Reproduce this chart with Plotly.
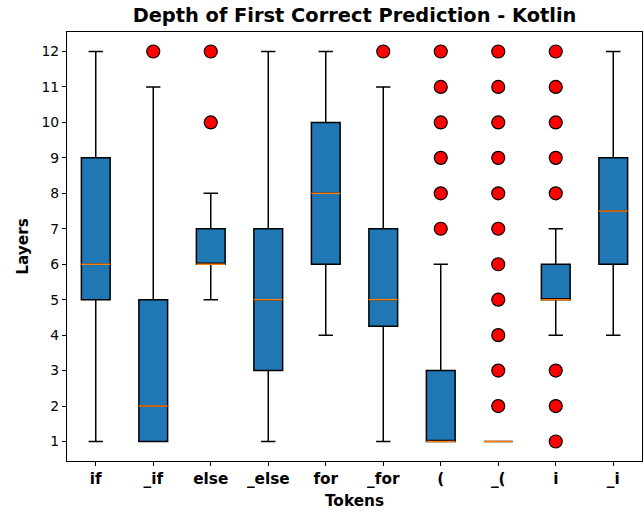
import plotly.graph_objects as go

categories = ["if", "_if", "else", "_else", "for", "_for", "(", "_(", "i", "_i"]
lower = [1, 1, 5, 1, 4, 1, 1, 1, 4, 4]
q1 = [5, 1, 6, 3, 6, 4.25, 1, 1, 5, 6]
median = [6, 2, 6, 5, 8, 5, 1, 1, 5, 7.5]
q3 = [9, 5, 7, 7, 10, 7, 3, 1, 6, 9]
upper = [12, 11, 8, 12, 12, 11, 6, 1, 7, 12]
outliers = [
    [],
    [12],
    [10, 12],
    [],
    [],
    [12],
    [7, 8, 9, 10, 11, 12],
    [2, 3, 4, 5, 6, 7, 8, 9, 10, 11, 12],
    [1, 2, 3, 8, 9, 10, 11, 12],
    [],
]

pos = list(range(len(categories)))
box_w = 0.5

fig = go.Figure()
for i, c in enumerate(categories):
    fig.add_trace(go.Box(
        x=[pos[i]], q1=[q1[i]], median=[median[i]], q3=[q3[i]],
        lowerfence=[lower[i]], upperfence=[upper[i]],
        width=box_w, whiskerwidth=0.5,
        fillcolor="#1f77b4", line=dict(color="black", width=1.5),
        boxpoints=False, showlegend=False, hoverinfo="skip",
    ))

mx, my = [], []
for i in pos:
    mx += [i - box_w / 2, i + box_w / 2, None]
    my += [median[i], median[i], None]
fig.add_trace(go.Scatter(x=mx, y=my, mode="lines",
                         line=dict(color="#ff7f0e", width=1.5),
                         showlegend=False, hoverinfo="skip"))

ox, oy = [], []
for i in pos:
    for v in outliers[i]:
        ox.append(i)
        oy.append(v)
fig.add_trace(go.Scatter(x=ox, y=oy, mode="markers",
                         marker=dict(color="red", size=13,
                                     line=dict(color="black", width=1.2)),
                         showlegend=False, hoverinfo="skip"))

fig.update_layout(
    width=644, height=514,
    margin=dict(l=67, r=2, t=32, b=53),
    paper_bgcolor="white", plot_bgcolor="white",
    font=dict(family="DejaVu Sans", color="black", size=13.9),
    title=dict(text="<b>Depth of First Correct Prediction - Kotlin</b>",
               x=0.5, xref="paper", xanchor="center", y=0.97, yanchor="middle",
               font=dict(size=19.4)),
    xaxis=dict(
        range=[-0.5, 9.5], tickmode="array", tickvals=pos,
        ticktext=["<b>%s</b>" % c for c in categories],
        tickfont=dict(size=15.3),
        ticks="outside", ticklen=4, tickcolor="black",
        showline=True, linecolor="black", linewidth=1.2, mirror=True,
        showgrid=False, zeroline=False,
        title=dict(text="<b>Tokens</b>", font=dict(size=15.3), standoff=7),
    ),
    yaxis=dict(
        range=[0.45, 12.55], tickmode="array", tickvals=list(range(1, 13)),
        ticks="outside", ticklen=4, tickcolor="black",
        showline=True, linecolor="black", linewidth=1.2, mirror=True,
        showgrid=False, zeroline=False,
        title=dict(text="<b>Layers</b>", font=dict(size=15.3), standoff=9),
    ),
)

fig.write_html("out.html", config={"displayModeBar": False},
               post_script="document.body.style.margin='0';")
